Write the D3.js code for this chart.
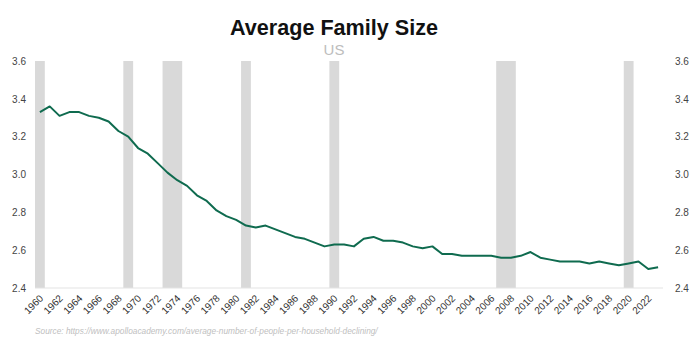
<!DOCTYPE html>
<html>
<head>
<meta charset="utf-8">
<script src="https://cdn.jsdelivr.net/npm/d3@7"></script>
<style>
  html, body { margin: 0; padding: 0; background: #fff; }
  svg { display: block; }
</style>
</head>
<body>
<svg id="chart" width="700" height="346"></svg>
<script>
// ---- Data ----
const years = d3.range(1960, 2024);
const familySize = [
  3.33, 3.36, 3.31, 3.33, 3.33, 3.31, 3.30, 3.28, 3.23, 3.20,
  3.14, 3.11, 3.06, 3.01, 2.97, 2.94, 2.89, 2.86, 2.81, 2.78,
  2.76, 2.73, 2.72, 2.73, 2.71, 2.69, 2.67, 2.66, 2.64, 2.62,
  2.63, 2.63, 2.62, 2.66, 2.67, 2.65, 2.65, 2.64, 2.62, 2.61,
  2.62, 2.58, 2.58, 2.57, 2.57, 2.57, 2.57, 2.56, 2.56, 2.57,
  2.59, 2.56, 2.55, 2.54, 2.54, 2.54, 2.53, 2.54, 2.53, 2.52,
  2.53, 2.54, 2.50, 2.51
];
const recessionStarts = [1960, 1969, 1973, 1981, 1990, 2007, 2020];
const recessionEnds   = [1960, 1969, 1974, 1981, 1990, 2008, 2020];
const yTicks = [2.4, 2.6, 2.8, 3.0, 3.2, 3.4, 3.6];
const xTickLabels = d3.range(1960, 2023, 2);
const titleText = "Average Family Size";
const subtitleText = "US";
const sourceText = "Source: https://www.apolloacademy.com/average-number-of-people-per-household-declining/";

// ---- Layout ----
const svg = d3.select("#chart");
const plotLeft = 35, plotRight = 663, plotTop = 61, plotBottom = 288;

const x = d3.scaleBand().domain(years).range([plotLeft, plotRight]).padding(0);
const bw = x.bandwidth();
const cx = yr => x(yr) + bw / 2;
const y = d3.scaleLinear().domain([2.4, 3.6]).range([plotBottom, plotTop]);

// Recession bars
svg.append("g").selectAll("rect")
  .data(recessionStarts.map((s, i) => [s, recessionEnds[i]]))
  .join("rect")
  .attr("x", d => x(d[0]))
  .attr("width", d => x(d[1]) + bw - x(d[0]))
  .attr("y", y(3.6))
  .attr("height", y(2.4) - y(3.6))
  .attr("fill", "#d9d9d9");

// Baseline
svg.append("line")
  .attr("x1", plotLeft).attr("x2", plotRight)
  .attr("y1", y(2.4)).attr("y2", y(2.4))
  .attr("stroke", "#e3e3e3").attr("stroke-width", 1);

// Left axis
const yAxisL = d3.axisLeft(y).tickValues(yTicks).tickFormat(d3.format(".1f")).tickSize(0).tickPadding(0);
const gl = svg.append("g").attr("transform", `translate(26,0)`).call(yAxisL);
gl.select(".domain").remove();
gl.selectAll("text").attr("font-family", "Liberation Sans, Arial, sans-serif")
  .attr("font-size", 10).attr("fill", "#444");

// Right axis
const yAxisR = d3.axisRight(y).tickValues(yTicks).tickFormat(d3.format(".1f")).tickSize(0).tickPadding(0);
const gr = svg.append("g").attr("transform", `translate(675,0)`).call(yAxisR);
gr.select(".domain").remove();
gr.selectAll("text").attr("font-family", "Liberation Sans, Arial, sans-serif")
  .attr("font-size", 10).attr("fill", "#444");

// X tick labels (rotated)
svg.append("g").selectAll("text")
  .data(xTickLabels)
  .join("text")
  .attr("transform", d => `translate(${cx(d) + 4},${plotBottom + 11}) rotate(-45)`)
  .attr("text-anchor", "end")
  .attr("font-family", "Liberation Sans, Arial, sans-serif")
  .attr("font-size", 10)
  .attr("fill", "#333")
  .text(d => d);

// Line
const line = d3.line().x((d, i) => cx(years[i])).y(d => y(d));
svg.append("path")
  .datum(familySize)
  .attr("d", line)
  .attr("fill", "none")
  .attr("stroke", "#0f6b4f")
  .attr("stroke-width", 2)
  .attr("stroke-linejoin", "round");

// Title
svg.append("text")
  .attr("x", 334).attr("y", 35)
  .attr("text-anchor", "middle")
  .attr("font-family", "Liberation Sans, Arial, sans-serif")
  .attr("font-weight", "bold")
  .attr("font-size", 21.6)
  .attr("fill", "#111")
  .text(titleText);

svg.append("text")
  .attr("x", 334).attr("y", 55)
  .attr("text-anchor", "middle")
  .attr("font-family", "Liberation Sans, Arial, sans-serif")
  .attr("font-size", 15)
  .attr("fill", "#bdbdbd")
  .text(subtitleText);

// Source
svg.append("text")
  .attr("x", 35).attr("y", 334)
  .attr("font-family", "Liberation Sans, Arial, sans-serif")
  .attr("font-style", "italic")
  .attr("font-size", 8.3)
  .attr("fill", "#c0c0c0")
  .text(sourceText);
</script>
</body>
</html>
